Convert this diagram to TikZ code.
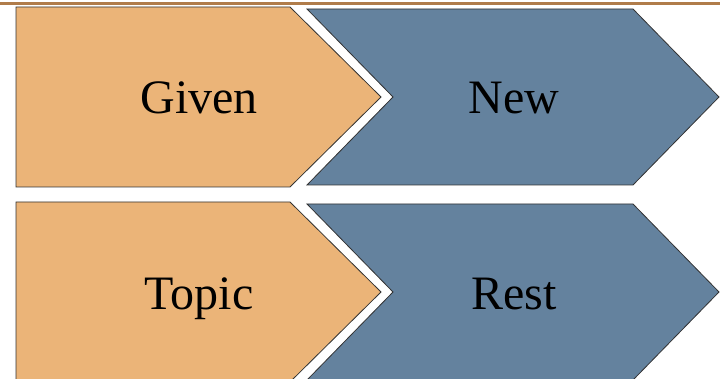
\documentclass[tikz,border=0pt]{standalone}
\usepackage{fontspec}
\setmainfont{Liberation Serif}
\definecolor{given}{RGB}{235,180,120}
\definecolor{newblue}{RGB}{100,130,158}
\definecolor{rule}{RGB}{176,124,74}
\tikzset{
  shapeline/.style={draw=black!80, line width=0.8pt, line join=miter},
  label/.style={inner sep=0pt, anchor=base, font=\fontsize{48}{50}\selectfont}
}
\begin{document}
\begin{tikzpicture}[x=1pt,y=-1pt]
  \useasboundingbox (0,0) rectangle (720,379);
  \clip (0,0) rectangle (720,379);

  % Linie oben
  \fill[rule] (0,2.5) rectangle (720,5.5);

  % zwei Zeilen: alt (orange) / neu (blau)
  \foreach \y/\a/\b/\na/\nb in {0/Given/New/given/new, 195/Topic/Rest/topic/rest} {
    \draw[shapeline, fill=given] (16,7+\y) -- (290,7+\y) -- (381,97+\y)
      -- (290,187+\y) -- (16,187+\y) -- cycle;
    \draw[shapeline, fill=newblue] (307,9+\y) -- (633,9+\y) -- (719,97+\y)
      -- (633,185+\y) -- (307,185+\y) -- (393,97+\y) -- cycle;
    \node[label] (\na) at (199,114+\y) {\a};
    \node[label] (\nb) at (514,114+\y) {\b};
  }
\end{tikzpicture}
\end{document}
